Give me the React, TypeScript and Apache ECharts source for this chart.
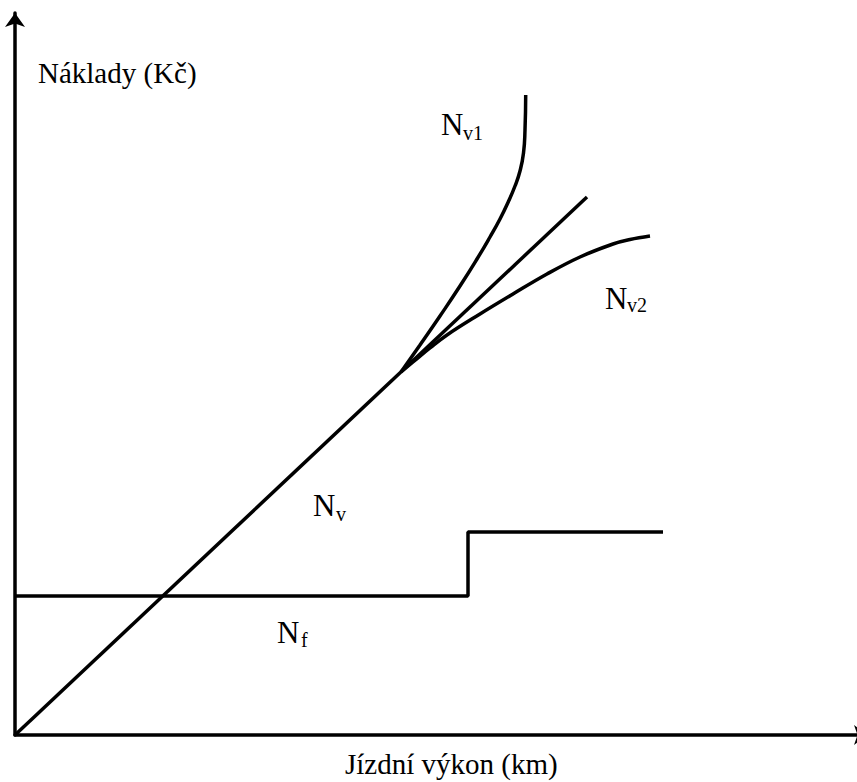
import React, { useEffect, useRef } from "react";
import * as echarts from "echarts";

// Data (axis units: horizontal = driving distance, vertical = cost; arbitrary units)
const nvLine: number[][] = [
  [0, 0],
  [572, 538],
];
const nv1Curve: number[][] = [
  [386, 363],
  [405, 390],
  [425, 419],
  [445, 449],
  [462, 476],
  [475, 498],
  [485, 516],
  [493, 532.5],
  [500, 549],
  [505, 564],
  [508.5, 582],
  [510, 605],
  [510.7, 640],
];
const nv2Curve: number[][] = [
  [386, 363],
  [398, 373],
  [415, 387],
  [432, 400],
  [465, 421],
  [498, 441],
  [532, 461],
  [565, 478],
  [598, 491],
  [615, 495.5],
  [635, 499],
];
const nfStep: number[][] = [
  [0, 139],
  [453, 139],
  [453, 203],
  [648, 203],
];

const xTitle = "Jízdní výkon (km)";
const yTitle = "Náklady (Kč)";

const FONT = "Liberation Serif";

function label(x: number, midY: number, text: string, size: number) {
  return {
    text,
    left: x,
    top: midY - size / 2,
    padding: 0,
    itemGap: 0,
    textStyle: {
      fontFamily: FONT,
      fontSize: size,
      fontWeight: "normal",
      color: "#000",
    },
  };
}

export default function App() {
  const ref = useRef<HTMLDivElement>(null);
  useEffect(() => {
    if (!ref.current) return;
    const chart = echarts.init(ref.current, undefined, { renderer: "svg" });
    const lineStyle = { color: "#000", width: 3.5 };
    chart.setOption({
      animation: false,
      backgroundColor: "#fff",
      textStyle: { fontFamily: FONT },
      title: [
        label(38, 73, yTitle, 29),
        label(345, 764, xTitle, 29),
        label(441, 124.5, "N", 31),
        label(463, 132.5, "v1", 20),
        label(605, 298.5, "N", 31),
        label(627, 305, "v2", 20),
        label(313, 505.5, "N", 31),
        label(336, 514, "v", 20),
        label(277, 632.5, "N", 31),
        label(301, 640, "f", 20),
      ],
      grid: { left: 15, right: 0, top: 13, bottom: 47, containLabel: false },
      xAxis: {
        type: "value",
        min: 0,
        max: 853,
        axisLine: {
          show: true,
          lineStyle: { color: "#000", width: 3.5 },
          symbol: ["none", "arrow"],
          symbolSize: [15, 14],
        },
        axisTick: { show: false },
        axisLabel: { show: false },
        splitLine: { show: false },
      },
      yAxis: {
        type: "value",
        min: 0,
        max: 722,
        axisLine: {
          show: true,
          lineStyle: { color: "#000", width: 3.5 },
          symbol: ["none", "arrow"],
          symbolSize: [15, 14],
        },
        axisTick: { show: false },
        axisLabel: { show: false },
        splitLine: { show: false },
      },
      series: [
        { name: "Nv", type: "line", data: nvLine, showSymbol: false, lineStyle },
        {
          name: "Nv1",
          type: "line",
          data: nv1Curve,
          showSymbol: false,
          smooth: 0.5,
          lineStyle,
        },
        {
          name: "Nv2",
          type: "line",
          data: nv2Curve,
          showSymbol: false,
          smooth: 0.4,
          lineStyle,
        },
        { name: "Nf", type: "line", data: nfStep, showSymbol: false, lineStyle },
      ],
    });
    return () => chart.dispose();
  }, []);
  return (
    <div
      style={{
        position: "fixed",
        left: 0,
        top: 0,
        width: 857,
        height: 782,
        overflow: "hidden",
        background: "#fff",
      }}
    >
      <div ref={ref} style={{ width: 868, height: 782 }} />
    </div>
  );
}
